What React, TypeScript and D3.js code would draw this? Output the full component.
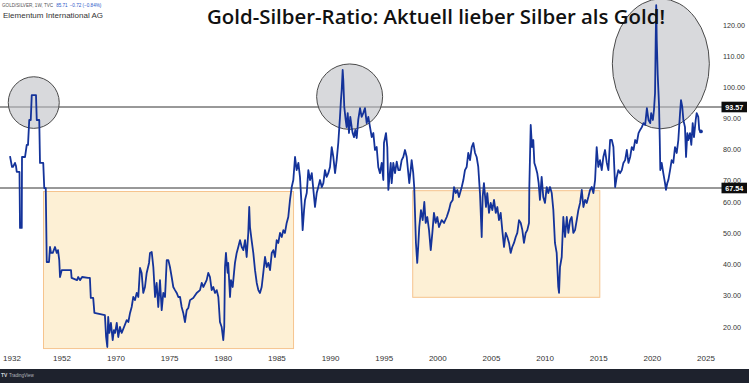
import React from 'react';
import * as d3 from 'd3';

const W = 749;
const H = 383;

// Gold/Silver ratio (weekly, TVC): decimal year and ratio
const years = [
  1931.2, 1932.0, 1932.4, 1933.2, 1933.6, 1933.9, 1934.4, 1935.0, 1935.2, 1935.9, 1936.0, 1937.2, 1937.9, 1938.4, 1938.9, 1939.5, 1939.9, 1941.6, 1941.9, 1942.9,
  1943.2, 1944.5, 1944.9, 1945.5, 1945.9, 1946.8, 1947.2, 1947.6, 1948.3, 1949.2, 1949.9, 1950.4, 1950.9, 1951.2, 1951.9, 1955.0, 1955.2, 1957.0, 1957.4, 1958.0,
  1958.7, 1960.7, 1961.3, 1961.6, 1962.4, 1962.8, 1966.3, 1966.7, 1967.1, 1967.4, 1967.8, 1968.3, 1968.9, 1969.3, 1969.7,
  1970.07, 1970.21, 1970.37, 1970.53, 1970.75, 1971.0, 1971.15, 1971.31, 1971.46, 1971.61, 1971.77, 1971.93, 1972.08, 1972.24, 1972.39, 1972.54, 1972.7, 1972.86,
  1973.08, 1973.17, 1973.33, 1973.48, 1973.64, 1973.79, 1973.94, 1974.1, 1974.26, 1974.41, 1974.57, 1974.73, 1974.88, 1975.03, 1975.19, 1975.34, 1975.5, 1975.66,
  1975.81, 1975.97, 1976.12, 1976.27, 1976.43, 1976.59, 1976.74, 1976.9, 1977.2, 1977.52, 1977.83, 1977.99, 1978.14, 1978.45, 1978.6, 1978.76, 1978.92, 1979.07,
  1979.23, 1979.39, 1979.54, 1979.69, 1979.85, 1980.0, 1980.09, 1980.16, 1980.25, 1980.32, 1980.41, 1980.46, 1980.56, 1980.63, 1980.72, 1980.88, 1981.0, 1981.09,
  1981.25, 1981.4, 1981.56, 1981.72, 1981.87, 1982.03, 1982.18, 1982.33, 1982.42, 1982.49, 1982.64, 1982.8, 1982.96, 1983.12, 1983.27, 1983.42, 1983.58, 1983.73,
  1983.89, 1984.05, 1984.2, 1984.36, 1984.52, 1984.67, 1984.82, 1984.98, 1985.13, 1985.29, 1985.45, 1985.6, 1985.75, 1985.91, 1986.06, 1986.22, 1986.38, 1986.53,
  1986.69, 1986.84, 1987.0, 1987.15, 1987.31, 1987.4, 1987.53, 1987.62, 1987.78, 1987.93, 1988.09, 1988.25, 1988.4, 1988.55, 1988.71, 1988.86, 1989.02, 1989.18,
  1989.33, 1989.48, 1989.64, 1989.79, 1989.95, 1990.11, 1990.26, 1990.42, 1990.57, 1990.72, 1990.88, 1990.97, 1991.04, 1991.13, 1991.19, 1991.28, 1991.41, 1991.5,
  1991.6, 1991.72, 1991.84, 1991.97, 1992.06, 1992.19, 1992.31, 1992.44, 1992.58, 1992.75, 1992.9, 1993.05, 1993.21, 1993.37, 1993.52, 1993.68, 1993.84, 1993.99,
  1994.14, 1994.3, 1994.45, 1994.61, 1994.77, 1994.92, 1994.98, 1995.17, 1995.29, 1995.39, 1995.61, 1995.7, 1995.85, 1996.01, 1996.17, 1996.32, 1996.47, 1996.63,
  1996.78, 1996.94, 1997.1, 1997.34, 1997.47, 1997.56, 1997.71, 1997.8, 1997.96, 1998.08, 1998.17, 1998.27, 1998.43, 1998.59, 1998.74, 1998.87, 1999.02, 1999.18,
  1999.34, 1999.49, 1999.64, 1999.8, 1999.95, 2000.11, 2000.36, 2000.58, 2000.83, 2001.04, 2001.2, 2001.39, 2001.51, 2001.67, 2001.82, 2001.97, 2002.23, 2002.38,
  2002.53, 2002.69, 2002.84, 2003.0, 2003.16, 2003.31, 2003.47, 2003.62, 2003.77, 2003.93, 2004.09, 2004.18, 2004.3, 2004.49, 2004.61, 2004.77, 2004.93, 2005.08,
  2005.24, 2005.4, 2005.55, 2005.7, 2005.86, 2006.01, 2006.17, 2006.33, 2006.48, 2006.64, 2006.79, 2006.94, 2007.1, 2007.26, 2007.41, 2007.57, 2007.73, 2007.88,
  2008.03, 2008.19, 2008.34, 2008.5, 2008.53, 2008.66, 2008.78, 2008.9, 2009.0, 2009.12, 2009.27, 2009.4, 2009.52, 2009.68, 2009.83, 2009.99, 2010.15, 2010.3,
  2010.46, 2010.62, 2010.77, 2010.92, 2011.08, 2011.23, 2011.3, 2011.39, 2011.55, 2011.7, 2011.86, 2012.02, 2012.17, 2012.33, 2012.48, 2012.63, 2012.79, 2012.95,
  2013.1, 2013.26, 2013.42, 2013.57, 2013.73, 2013.88, 2014.03, 2014.19, 2014.35, 2014.5, 2014.66, 2014.81, 2014.96, 2015.12, 2015.28, 2015.43, 2015.59, 2015.75,
  2015.9, 2016.06, 2016.22, 2016.37, 2016.53, 2016.68, 2016.83, 2016.99, 2017.15, 2017.3, 2017.46, 2017.62, 2017.77, 2017.93, 2018.08, 2018.24, 2018.4, 2018.55,
  2018.71, 2018.86, 2019.02, 2019.17, 2019.33, 2019.49, 2019.64, 2019.8, 2019.89, 2020.05, 2020.15, 2020.25, 2020.31, 2020.36, 2020.41, 2020.5, 2020.56, 2020.62,
  2020.69, 2020.74, 2020.87, 2021.02, 2021.18, 2021.27, 2021.39, 2021.49, 2021.65, 2021.8, 2021.95, 2022.11, 2022.27, 2022.42, 2022.58, 2022.67, 2022.79, 2022.89,
  2023.04, 2023.14, 2023.26, 2023.35, 2023.51, 2023.63, 2023.76, 2023.88, 2024.04, 2024.13, 2024.28, 2024.37, 2024.53,
];

const ratio = [
  77.8, 74.3, 74.3, 75.6, 74.6, 72.7, 72.7, 72.7, 51.7, 51.7, 77.5, 77.5, 81.4, 81.4, 89.4, 89.4, 97.4, 97.4, 89.4, 89.4,
  75.6, 75.6, 67.5, 67.5, 40.8, 40.8, 45.6, 43.7, 43.7, 45.6, 43.7, 44.6, 41.4, 36.0, 38.2, 38.2, 35.7, 35.0, 36.0, 35.0,
  36.0, 35.7, 35.7, 29.3, 29.3, 24.5, 23.8, 16.8, 13.6, 23.2, 18.1, 21.3, 15.8, 19.0, 18.1,
  21.3, 16.8, 20.0, 18.1, 20.0, 22.2, 21.6, 24.5, 26.4, 29.6, 28.6, 30.9, 29.6, 38.9, 37.3, 30.9, 32.8, 37.3,
  40.5, 43.7, 44.0, 39.2, 29.6, 34.1, 26.4, 35.0, 25.4, 30.9, 29.6, 41.4, 41.4, 39.2, 36.0, 32.8, 31.8, 30.9,
  29.6, 29.6, 26.4, 24.5, 21.6, 25.4, 26.1, 28.6, 29.3, 30.9, 31.8, 34.1, 32.8, 35.0, 37.3, 36.0, 31.8, 32.8,
  30.9, 31.8, 29.6, 21.6, 20.0, 15.8, 20.0, 39.2, 43.7, 40.5, 37.3, 40.5, 34.1, 29.6, 35.0, 32.8, 37.3, 40.5,
  43.7, 45.6, 47.8, 45.6, 44.6, 47.8, 42.4, 50.1, 58.4, 52.0, 47.8, 43.7, 38.2, 34.1, 31.8, 30.9, 32.8, 37.3,
  42.4, 39.2, 40.5, 38.2, 43.7, 44.6, 42.4, 47.8, 46.9, 50.1, 48.8, 51.0, 50.1, 53.3, 55.2, 61.1, 67.85, 70.1,
  77.5, 73.3, 75.6, 71.1, 58.4, 51.0, 57.4, 61.1, 64.8, 73.3, 70.1, 72.3, 66.5, 58.4, 64.8, 67.85, 70.1, 67.85,
  69.1, 73.3, 71.1, 72.3, 74.3, 80.7, 77.5, 72.3, 76.5, 82.0, 90.4, 95.8, 99.0, 105.5, 102.2, 93.6, 89.4, 87.1,
  91.6, 85.2, 90.4, 87.1, 85.2, 83.9, 86.2, 83.6, 89.4, 93.2, 90.4, 91.6, 93.2, 88.4, 90.4, 87.1, 83.9, 85.2,
  79.75, 80.7, 74.3, 72.3, 75.6, 70.1, 82.0, 85.2, 80.7, 66.5, 75.6, 69.1, 75.6, 72.3, 76.0, 73.3, 73.3, 76.5,
  77.5, 79.75, 77.5, 69.1, 73.3, 76.5, 72.3, 67.85, 46.9, 40.5, 45.6, 52.0, 57.4, 54.2, 60.0, 53.3, 55.2, 51.0,
  44.6, 50.1, 56.5, 53.3, 55.2, 52.0, 54.2, 53.3, 55.2, 57.4, 59.7, 61.1, 67.85, 64.8, 66.5, 62.7, 67.85, 70.1,
  73.3, 74.3, 78.8, 76.5, 80.7, 82.0, 78.8, 77.5, 74.3, 64.8, 48.8, 62.7, 69.1, 58.4, 64.8, 56.5, 59.7, 57.4,
  61.1, 56.5, 58.4, 54.2, 56.5, 51.0, 45.6, 50.1, 48.8, 46.9, 43.7, 45.6, 46.9, 48.8, 50.1, 54.2, 53.3, 51.0,
  46.9, 50.1, 51.0, 53.3, 67.85, 87.8, 80.7, 82.96, 75.6, 74.3, 72.3, 69.1, 61.1, 71.1, 62.7, 59.7, 67.85, 64.8,
  67.85, 64.8, 57.4, 46.9, 43.7, 32.8, 30.9, 39.2, 42.4, 55.2, 48.8, 55.2, 50.1, 54.2, 55.2, 50.1, 51.0, 54.2,
  57.4, 59.7, 66.5, 58.4, 61.1, 59.7, 62.7, 66.5, 67.85, 64.8, 70.1, 80.7, 74.3, 76.5, 73.3, 77.5, 79.75, 75.6,
  73.3, 82.96, 82.96, 80.7, 67.85, 71.1, 73.3, 72.3, 73.3, 75.6, 76.5, 79.75, 75.6, 77.5, 80.7, 79.75, 82.96, 82.0,
  85.2, 86.2, 87.1, 88.4, 87.8, 93.2, 89.4, 88.4, 91.6, 89.4, 92.6, 98.1, 115.1, 126.4, 115.1, 103.9, 99.0, 94.2,
  82.96, 73.3, 75.6, 72.3, 69.1, 66.5, 69.1, 70.1, 73.3, 76.5, 75.6, 80.7, 78.8, 82.96, 91.6, 95.8, 93.57, 89.4,
  87.1, 77.5, 85.2, 82.96, 85.2, 81.4, 88.4, 83.9, 89.4, 91.6, 90.4, 86.2, 85.71,
];

// axis ticks
const yTicks = [120, 110, 100, 90, 80, 70, 60, 50, 40, 30, 20];
const xTicks = [1932, 1952, 1970, 1975, 1980, 1985, 1990, 1995, 2000, 2005, 2010, 2015, 2020, 2025];

// horizontal levels
const levels = [93.57, 67.54];

// shaded zones: start/end year, low/high ratio
const zoneStart = [1944.6, 1997.66];
const zoneEnd = [1986.55, 2015.1];
const zoneLow = [13.1, 29.5];
const zoneHigh = [65.65, 66.1];

// highlight ellipses (centres in data units)
const markYear = [1940.7, 1991.78, 2020.79];
const markRatio = [95.0, 96.9, 107.5];
const markRx = [25.5, 33, 48.5];
const markRy = [25.8, 32.7, 65];

const title = 'Gold-Silber-Ratio: Aktuell lieber Silber als Gold!';

export default function App() {
  // TradingView index-based time axis: early data is sparse
  const x = d3.scaleLinear().domain([1932, 1952, 1970, 2025]).range([12, 62, 116, 706]);
  const y = d3.scaleLinear().domain([20, 60, 67.54, 93.57, 120]).range([327, 202, 188, 107, 25]);

  const pts: [number, number][] = years.map((yr, i) => [yr, ratio[i]]);
  const line = d3
    .line<[number, number]>()
    .x((d) => x(d[0]))
    .y((d) => y(d[1]));

  const axisFont = '"Liberation Sans", Arial, sans-serif';

  return (
    <svg
      width={W}
      height={H}
      viewBox={`0 0 ${W} ${H}`}
      style={{ position: 'absolute', left: 0, top: 0, display: 'block' }}
    >
      <rect x={0} y={0} width={W} height={H} fill="#ffffff" />

      {zoneStart.map((s, i) => (
        <rect
          key={`z${i}`}
          x={x(s)}
          y={y(zoneHigh[i])}
          width={x(zoneEnd[i]) - x(s)}
          height={y(zoneLow[i]) - y(zoneHigh[i])}
          fill="#fdf0d5"
          stroke="#f6c48e"
          strokeWidth={1}
        />
      ))}

      {levels.map((lv, i) => (
        <line key={`l${i}`} x1={0} x2={722} y1={y(lv)} y2={y(lv)} stroke="#333" strokeWidth={1} />
      ))}

      {markYear.map((yr, i) => (
        <ellipse
          key={`e${i}`}
          cx={x(yr)}
          cy={y(markRatio[i])}
          rx={markRx[i]}
          ry={markRy[i]}
          fill="rgba(190,191,196,0.6)"
          stroke="#4a4a4a"
          strokeWidth={1}
        />
      ))}

      <path d={line(pts) || ''} fill="none" stroke="#14339a" strokeWidth={1.8} strokeLinejoin="round" />
      <circle cx={x(years[years.length - 1])} cy={y(ratio[ratio.length - 1])} r={1.9} fill="#14339a" />

      {yTicks.map((t) => (
        <text key={`yt${t}`} x={723} y={y(t)} dy="0.35em" fontFamily={axisFont} fontSize={7.2} fill="#333">
          {t.toFixed(2)}
        </text>
      ))}

      {levels.map((lv, i) => (
        <g key={`ll${i}`}>
          <rect x={721.5} y={y(lv) - 5.3} width={25.5} height={10.6} fill="#0d0d0d" />
          <text
            x={734.2}
            y={y(lv)}
            dy="0.35em"
            textAnchor="middle"
            fontFamily={axisFont}
            fontSize={7.2}
            fontWeight="bold"
            fill="#ffffff"
          >
            {lv.toFixed(2)}
          </text>
        </g>
      ))}

      {xTicks.map((t) => (
        <text
          key={`xt${t}`}
          x={x(t)}
          y={358}
          dy="0.35em"
          textAnchor="middle"
          fontFamily={axisFont}
          fontSize={8}
          fill="#333"
        >
          {t}
        </text>
      ))}

      <text x={2} y={6.5} fontFamily={axisFont} fontSize={4.6} fill="#555">
        GOLD/SILVER, 1W, TVC
        <tspan fill="#2a55c8" dx={3}>85.71</tspan>
        <tspan fill="#2a55c8" dx={2}>−0.72 (−0.84%)</tspan>
      </text>
      <text x={3} y={18} fontFamily={axisFont} fontSize={8} fill="#333">
        Elementum International AG
      </text>

      <text
        x={207}
        y={24}
        fontFamily='"Open Sans", Lato, sans-serif'
        fontSize={20}
        fontWeight={600}
        fill="#111"
        textLength={458}
        lengthAdjust="spacingAndGlyphs"
      >
        {title}
      </text>

      <rect x={0} y={369} width={W} height={14} fill="#1e222d" />
      <text x={1} y={377} fontFamily={axisFont} fontSize={5} fontWeight="bold" fill="#d1d4dc">
        TV
      </text>
      <text x={9} y={377} fontFamily={axisFont} fontSize={4.5} fill="#b2b5be">
        TradingView
      </text>
    </svg>
  );
}
